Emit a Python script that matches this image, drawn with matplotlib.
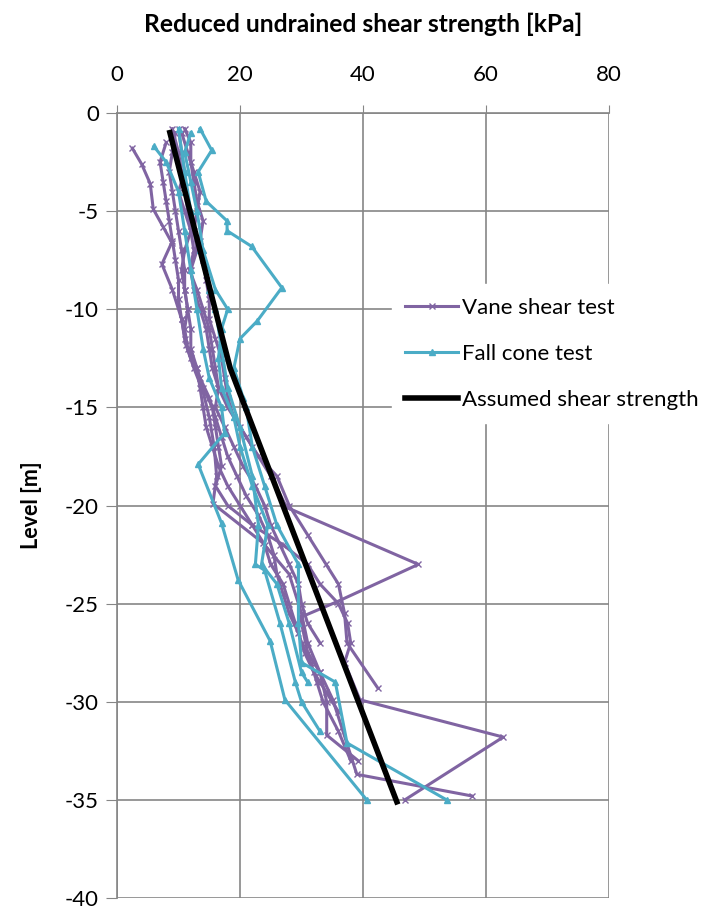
import matplotlib
matplotlib.use("Agg")
import matplotlib.pyplot as plt

plt.rcParams['font.family'] = ['Lato', 'DejaVu Sans']
plt.rcParams['axes.unicode_minus'] = False

# vane shear test profiles (strength kPa, level m)
vane_x = [
    [2.5, 4.0, 5.4, 5.9, 7.5, 8.9, 7.3, 9.0, 10.5, 11.2, 12.5, 14.0, 15.0, 15.8, 16.2, 15.6, 23.7, 28.0, 30.0, 31.0, 33.0, 34.1, 34.1, 39.2],
    [9.0, 10.0, 10.5, 11.0, 11.5, 12.0, 12.5, 11.8, 13.0, 14.0, 15.0, 15.5, 16.0, 16.5, 18.0, 20.0, 22.0, 25.0, 27.6, 49.0, 35.8, 29.8, 31.0, 33.0, 35.1, 39.0, 57.7],
    [10.0, 10.5, 11.0, 10.0, 11.0, 12.0, 11.0, 10.5, 11.0, 11.5, 11.0, 11.5, 13.0, 14.0, 15.5, 16.0, 16.5, 17.0, 16.0, 18.0, 22.0, 27.0, 31.0, 33.0, 36.0, 37.5, 38.0, 37.0, 39.5, 62.8, 46.8],
    [11.0, 12.0, 12.0, 12.5, 13.0, 14.0, 13.5, 14.0, 14.5, 15.0, 15.0, 16.0, 17.0, 17.5, 18.0, 19.0, 21.0, 23.0, 26.0, 28.0, 31.0, 34.0, 36.0, 37.0, 37.4, 42.4],
    [9.5, 9.0, 8.5, 9.0, 9.5, 10.0, 10.5, 11.0, 11.0, 11.5, 12.0, 12.0, 13.0, 13.5, 14.0, 14.5, 15.5, 16.5, 18.0, 20.0, 22.0, 24.0, 25.0, 27.0, 28.0, 29.0, 30.0, 31.5, 32.5, 33.5, 36.0, 38.0],
    [8.0, 7.0, 7.5, 8.0, 8.5, 9.0, 9.5, 10.0, 10.0, 10.5, 11.0, 12.0, 13.5, 15.0, 16.0, 17.0, 18.0, 19.5, 21.0, 23.0, 24.5, 25.5, 26.0, 27.0, 28.0, 29.5, 30.5, 32.0, 34.0, 36.0],
    [10.5, 11.5, 12.5, 13.5, 13.0, 12.5, 13.0, 12.0, 12.5, 13.5, 14.5, 15.0, 15.5, 16.5, 16.0, 17.5, 19.0, 20.5, 22.5, 24.0, 25.0, 26.5, 28.0, 29.5, 30.0, 31.0, 33.0],
]
vane_y = [
    [-1.8, -2.6, -3.6, -4.9, -5.8, -6.6, -7.7, -9.0, -10.5, -11.8, -13.0, -14.2, -15.5, -17.0, -18.5, -19.9, -21.9, -23.5, -25.5, -27.0, -28.5, -30.0, -31.7, -33.0],
    [-0.8, -2.0, -3.0, -4.0, -5.0, -6.0, -7.0, -8.0, -9.0, -10.0, -11.0, -12.0, -13.0, -14.0, -15.0, -16.0, -17.0, -18.5, -20.1, -23.0, -24.9, -25.7, -27.5, -28.5, -29.9, -33.7, -34.8],
    [-0.8, -2.0, -3.0, -4.0, -5.0, -6.0, -7.0, -8.0, -9.0, -10.0, -11.0, -12.0, -13.0, -14.0, -15.0, -16.0, -17.0, -18.0, -19.0, -20.0, -21.0, -22.0, -23.0, -24.0, -25.0, -26.0, -27.0, -28.0, -29.9, -31.8, -35.0],
    [-0.8, -1.5, -2.5, -3.5, -4.5, -5.5, -6.5, -7.5, -8.5, -9.5, -10.5, -11.5, -12.5, -13.5, -14.5, -15.5, -16.5, -17.5, -18.5, -20.0, -21.5, -23.0, -24.0, -25.5, -27.0, -29.3],
    [-1.0, -2.0, -3.0, -4.0, -5.0, -6.0, -7.0, -8.0, -9.0, -10.0, -11.0, -12.0, -13.0, -14.0, -15.0, -16.0, -17.0, -18.0, -19.0, -20.0, -21.0, -22.0, -23.0, -24.0, -25.0, -26.0, -27.0, -28.0, -29.0, -30.0, -31.5, -33.0],
    [-1.5, -2.5, -3.5, -4.5, -5.5, -6.5, -7.5, -8.5, -9.5, -10.5, -11.5, -12.5, -13.5, -14.5, -15.5, -16.5, -17.5, -18.5, -19.5, -20.5, -21.5, -22.5, -23.5, -24.5, -25.5, -26.5, -27.5, -28.5, -29.5, -30.5],
    [-1.0, -2.0, -3.0, -4.0, -5.0, -6.0, -7.0, -8.0, -9.0, -10.0, -11.0, -12.0, -13.0, -14.0, -15.0, -16.0, -17.0, -18.0, -19.0, -20.0, -21.0, -22.0, -23.0, -24.0, -25.0, -26.0, -27.0],
]

# fall cone test profiles
cone_x = [
    [13.5, 15.4, 13.2, 14.5, 17.9, 17.9, 21.9, 26.8, 22.8, 20.0, 19.0, 20.5, 21.0, 22.0, 24.0, 26.0, 29.5, 29.5, 30.0, 35.5, 37.4, 53.6],
    [6.0, 8.0, 10.0, 11.0, 12.0, 13.0, 14.0, 15.0, 17.0, 17.5, 13.2, 17.0, 19.7, 24.9, 27.3, 40.6],
    [12.0, 11.0, 12.0, 13.0, 14.0, 16.0, 18.0, 17.0, 16.5, 17.0, 19.0, 20.0, 22.0, 24.5, 23.5, 26.0, 28.0, 30.0, 31.0],
    [10.0, 11.0, 12.0, 13.5, 15.0, 16.0, 17.0, 18.0, 20.0, 22.0, 23.0, 22.5, 24.0, 26.5, 29.0, 30.0, 33.0],
]
cone_y = [
    [-0.8, -1.9, -3.0, -4.5, -5.5, -6.0, -6.8, -8.9, -10.6, -11.5, -13.0, -14.5, -15.0, -17.0, -19.0, -21.0, -23.0, -26.0, -28.0, -29.0, -32.1, -35.0],
    [-1.7, -2.5, -4.0, -6.0, -8.0, -10.0, -12.0, -13.5, -15.0, -16.3, -17.9, -20.9, -23.8, -26.9, -29.9, -35.0],
    [-1.0, -2.0, -3.5, -5.0, -7.0, -9.0, -10.0, -11.0, -12.5, -14.0, -15.5, -17.0, -19.0, -21.0, -23.0, -24.0, -26.0, -28.5, -29.0],
    [-0.8, -3.0, -5.0, -7.0, -9.0, -10.0, -12.0, -14.0, -16.0, -18.5, -21.0, -23.0, -23.3, -26.0, -29.0, -30.0, -31.5],
]

# assumed design line
assumed_x = [8.6, 18.4, 45.5]
assumed_y = [-1.0, -13.0, -35.1]

purple = '#8064A2'
cyan = '#4BACC6'
grid = '#868686'

fig = plt.figure(figsize=(7.07, 9.09), dpi=100)
ax = fig.add_axes([117 / 707, 1 - 898 / 909, 492 / 707, 785 / 909])

for i, (xs, ys) in enumerate(zip(vane_x, vane_y)):
    ax.plot(xs, ys, color=purple, lw=2.2, marker='x', ms=4, mew=1,
            label='Vane shear test' if i == 0 else None, zorder=3)
for i, (xs, ys) in enumerate(zip(cone_x, cone_y)):
    ax.plot(xs, ys, color=cyan, lw=2.2, marker='^', ms=4.5,
            label='Fall cone test' if i == 0 else None, zorder=3)
ax.plot(assumed_x, assumed_y, color='black', lw=4,
        label='Assumed shear strength', zorder=4)

ax.set_xlim(0, 80)
ax.set_ylim(-40, 0)
ax.set_xticks(range(0, 81, 20))
ax.set_yticks(range(-40, 1, 5))
ax.xaxis.tick_top()
ax.tick_params(axis='x', length=6, color=grid, pad=14, labelsize=16)
ax.tick_params(axis='y', length=8, color=grid, pad=5, labelsize=16)
ax.grid(True, color=grid, lw=1.2)
ax.set_axisbelow(True)
for s in ['bottom', 'right']:
    ax.spines[s].set_visible(False)
for s in ['top', 'left']:
    ax.spines[s].set_color(grid)
    ax.spines[s].set_linewidth(1.2)

ax.set_ylabel('Level [m]', fontsize=15.5, fontweight='bold')
ax.yaxis.set_label_coords(-0.152, 0.5)
fig.text(363 / 707, 1 - 24 / 909, 'Reduced undrained shear strength [kPa]',
         ha='center', va='center', fontsize=17.7, fontweight='bold')

leg = ax.legend(loc='center left', bbox_to_anchor=(0.558, 0.6936), frameon=True,
                fontsize=16, labelspacing=1.17, handlelength=2.4, handletextpad=0.18,
                borderaxespad=0, borderpad=0.6)
leg.get_frame().set_edgecolor('white')
leg.get_frame().set_alpha(1)
leg.get_frame().set_boxstyle('square', pad=0)

fig.savefig('out.png', dpi=100)
